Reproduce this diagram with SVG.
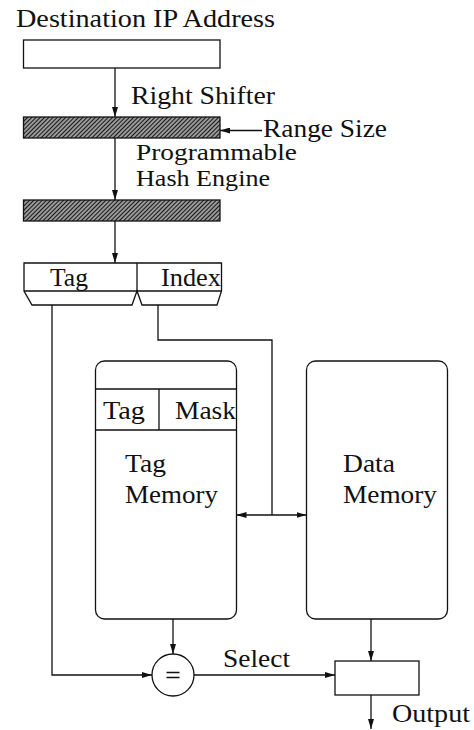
<svg xmlns="http://www.w3.org/2000/svg" width="474" height="730" viewBox="0 0 474 730">
<style>
.s{fill:none;stroke:#111;stroke-width:1.3}
.b{fill:#fff;stroke:#111;stroke-width:1.3}
.h{fill:url(#hatch);stroke:#111;stroke-width:1.3}
text{font-family:"Liberation Serif","Times New Roman",serif;font-size:26px;fill:#111}
.sm{font-size:23px}
</style>
<defs>
<pattern id="hatch" width="3" height="3" patternUnits="userSpaceOnUse" patternTransform="rotate(45)">
<rect width="3" height="3" fill="#999"/>
<line x1="0" y1="0" x2="0" y2="3" stroke="#111" stroke-width="1.9"/>
</pattern>
<marker id="ah" viewBox="0 0 10 6" refX="10" refY="3" markerWidth="10" markerHeight="6" markerUnits="userSpaceOnUse" orient="auto-start-reverse">
<path d="M0,0 L10,3 L0,6 Z" fill="#111"/>
</marker>
</defs>

<g id="title"><text x="16" y="27" textLength="259" lengthAdjust="spacingAndGlyphs">Destination IP Address</text></g>

<g id="ip-box"><rect class="b" x="23.5" y="40" width="196.5" height="28"/></g>

<g id="right-shifter">
<rect class="h" x="23.5" y="117" width="196.5" height="21"/>
<text x="131" y="104" textLength="144" lengthAdjust="spacingAndGlyphs">Right Shifter</text>
</g>

<g id="range-size"><text x="263" y="137" textLength="124" lengthAdjust="spacingAndGlyphs">Range Size</text></g>

<g id="hash-engine">
<rect class="h" x="23.5" y="200" width="196.5" height="21"/>
<text class="sm" x="136" y="160" textLength="161" lengthAdjust="spacingAndGlyphs">Programmable</text>
<text class="sm" x="136" y="186" textLength="134" lengthAdjust="spacingAndGlyphs">Hash Engine</text>
</g>

<g id="tag-index">
<path class="b" d="M24,263 H221.5 V291 L217,305 H142 L137,291 L132,305 H32 L24,291 Z"/>
<path class="s" d="M24,291 H221.5 M137,263 V291"/>
<text x="50" y="286" textLength="38" lengthAdjust="spacingAndGlyphs">Tag</text>
<text x="161" y="286" textLength="60" lengthAdjust="spacingAndGlyphs">Index</text>
</g>

<g id="tag-memory">
<rect class="b" x="95.5" y="361" width="141" height="258" rx="9"/>
<path class="s" d="M95.5,389 H236.5 M95.5,430 H236.5 M159,389 V430"/>
<text x="103" y="419" textLength="42" lengthAdjust="spacingAndGlyphs">Tag</text>
<text x="175" y="419" textLength="61" lengthAdjust="spacingAndGlyphs">Mask</text>
<text x="125" y="472" textLength="41" lengthAdjust="spacingAndGlyphs">Tag</text>
<text x="125" y="503" textLength="93" lengthAdjust="spacingAndGlyphs">Memory</text>
</g>

<g id="data-memory">
<rect class="b" x="306.5" y="361" width="141" height="258" rx="9"/>
<text x="343" y="472" textLength="52" lengthAdjust="spacingAndGlyphs">Data</text>
<text x="343" y="503" textLength="94" lengthAdjust="spacingAndGlyphs">Memory</text>
</g>

<g id="comparator">
<circle class="b" cx="173" cy="675" r="21"/>
<path class="s" d="M166.5,672.5 H179.5 M166.5,677.5 H179.5" style="stroke-width:1.6"/>
</g>

<g id="output-mux"><rect class="b" x="335" y="661" width="84" height="34"/></g>

<g id="labels">
<text x="223" y="667" textLength="67" lengthAdjust="spacingAndGlyphs">Select</text>
<text x="392" y="722" textLength="78" lengthAdjust="spacingAndGlyphs">Output</text>
</g>

<g id="connectors">
<path class="s" d="M115,68 V117" marker-end="url(#ah)"/>
<path class="s" d="M115,138 V200" marker-end="url(#ah)"/>
<path class="s" d="M115,221 V263" marker-end="url(#ah)"/>
<path class="s" d="M262,130.5 H220" marker-end="url(#ah)"/>
<path class="s" d="M52,305 V675 H152" marker-end="url(#ah)"/>
<path class="s" d="M158,305 V340 H272 V515"/>
<path class="s" d="M236.5,515 H306.5" marker-start="url(#ah)" marker-end="url(#ah)"/>
<path class="s" d="M173,619 V654" marker-end="url(#ah)"/>
<path class="s" d="M194,675 H335" marker-end="url(#ah)"/>
<path class="s" d="M371,619 V661" marker-end="url(#ah)"/>
<path class="s" d="M371,695 V729" marker-end="url(#ah)"/>
</g>
</svg>
